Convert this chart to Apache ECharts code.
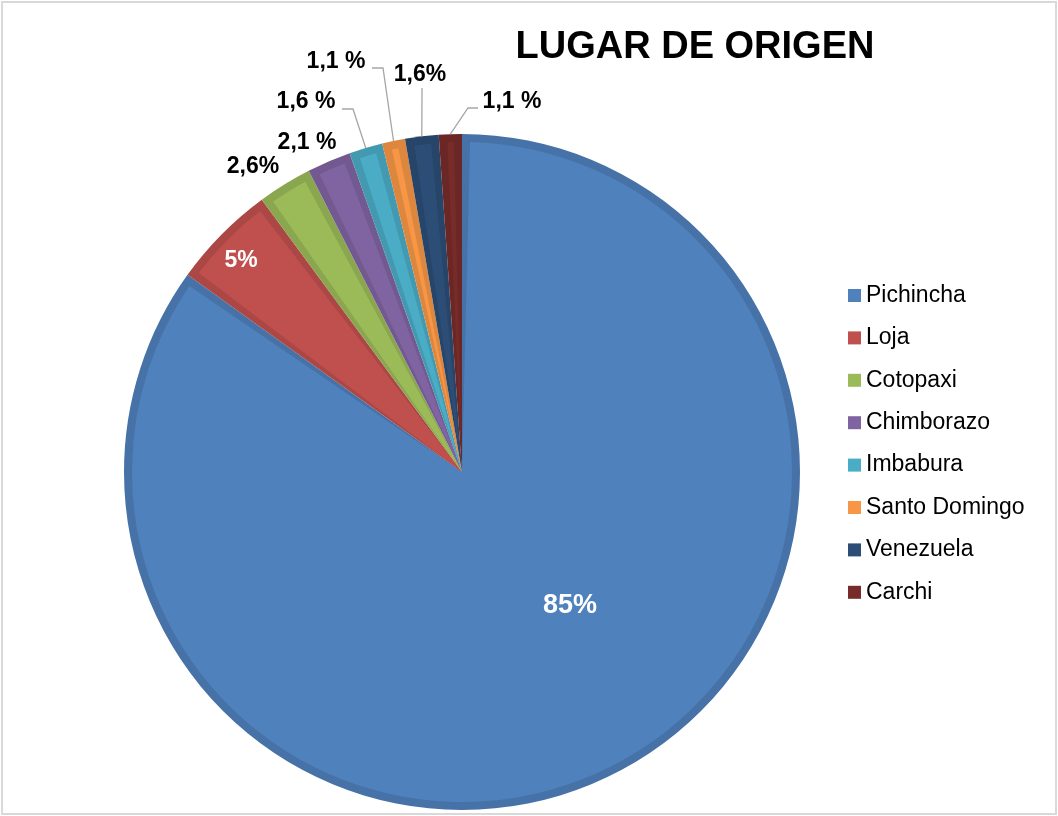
<!DOCTYPE html>
<html>
<head>
<meta charset="utf-8">
<script src="https://cdn.jsdelivr.net/npm/echarts@6/dist/echarts.min.js"></script>
<style>
  html, body { margin: 0; padding: 0; background: #fff; }
  #frame { position: absolute; left: 1px; top: 1px; width: 1052px; height: 810px; border: 2px solid #d9d9d9; }
  #pie { position: absolute; left: 0; top: 0; width: 1058px; height: 816px; }
</style>
</head>
<body>
<div id="frame"></div>
<div id="pie"></div>
<script>
// datos
const regiones = ['Pichincha', 'Loja', 'Cotopaxi', 'Chimborazo', 'Imbabura', 'Santo Domingo', 'Venezuela', 'Carchi'];
const porcentajes = [85, 5, 2.6, 2.1, 1.6, 1.1, 1.6, 1.1];
const etiquetas = ['85%', '5%', '2,6%', '2,1 %', '1,6 %', '1,1 %', '1,6%', '1,1 %'];

// colores: relleno claro y borde oscuro (efecto bisel de Excel)
const claros = ['#4f81bd', '#c0504d', '#9bbb59', '#8064a2', '#4bacc6', '#f79646', '#2c4d75', '#772c2a'];
const oscuros = ['#4672a8', '#ab4744', '#8aa64f', '#725990', '#4399b0', '#dd873e', '#274469', '#6a2725'];

const centro = [462, 472];
const radioExt = 338;
const radioInt = 330;

// posicion (centro) de cada etiqueta y codo de la linea guia
const sitiosEtiqueta = [
  [570, 606], [241, 261], [253, 167], [307, 143],
  [306, 102], [336, 62], [420, 75], [512, 102]
];
const codos = {
  4: [[353, 109], [342, 109]],
  5: [[383, 68], [372, 68]],
  6: [[422, 96], [422, 88]],
  7: [[468, 108], [478, 108]]
};

const fuente = '"Liberation Sans", Arial, sans-serif';

let chart = echarts.init(document.getElementById('pie'), null, { renderer: 'canvas' });

const option = {
  animation: false,
  title: {
    text: 'LUGAR DE ORIGEN',
    left: 690,
    top: 24,
    textAlign: 'center',
    textStyle: { fontFamily: fuente, fontSize: 38, fontWeight: 'bold', color: '#000' }
  },
  legend: {
    orient: 'vertical',
    left: 848,
    top: 284,
    padding: 0,
    itemWidth: 13,
    itemHeight: 13,
    itemGap: 19.4,
    icon: 'rect',
    data: regiones,
    selectedMode: false,
    textStyle: { fontFamily: fuente, fontSize: 23, lineHeight: 23, color: '#000' }
  },
  series: [
    {
      // capa clara con etiquetas
      name: 'claro',
      type: 'pie',
      z: 3,
      center: centro,
      radius: radioInt,
      startAngle: 90,
      clockwise: true,
      padAngle: 2.8,
      avoidLabelOverlap: false,
      emphasis: { disabled: true },
      data: regiones.map(function (r, i) {
        const dentro = i < 2;
        return {
          name: r,
          value: porcentajes[i],
          itemStyle: { color: claros[i] },
          label: {
            position: dentro ? 'inside' : 'outside',
            color: dentro ? '#fff' : '#000',
            fontSize: i === 0 ? 27 : 23
          },
          labelLine: { show: !!codos[i] }
        };
      }),
      label: {
        show: true,
        fontFamily: fuente,
        fontWeight: 'bold',
        formatter: function (p) { return etiquetas[p.dataIndex]; }
      },
      labelLine: {
        show: true,
        length: 20,
        length2: 10,
        lineStyle: { color: '#a6a6a6', width: 1.3 }
      },
      labelLayout: function (p) {
        const i = p.dataIndex;
        const s = sitiosEtiqueta[i];
        const out = { x: s[0], y: s[1], align: 'center', verticalAlign: 'middle' };
        if (codos[i] && p.labelLinePoints) {
          const a = p.labelLinePoints[0];
          const k = radioExt / radioInt;
          const ancla = [centro[0] + (a[0] - centro[0]) * k, centro[1] + (a[1] - centro[1]) * k];
          out.labelLinePoints = [ancla].concat(codos[i]);
        }
        return out;
      }
    },
    {
      // capa oscura de fondo (borde del bisel)
      name: 'oscuro',
      type: 'pie',
      z: 2,
      silent: true,
      center: centro,
      radius: radioExt,
      startAngle: 90,
      clockwise: true,
      label: { show: false },
      labelLine: { show: false },
      emphasis: { disabled: true },
      data: regiones.map(function (r, i) {
        return { name: r, value: porcentajes[i], itemStyle: { color: oscuros[i] } };
      })
    }
  ]
};

chart.setOption(option);
</script>
</body>
</html>
